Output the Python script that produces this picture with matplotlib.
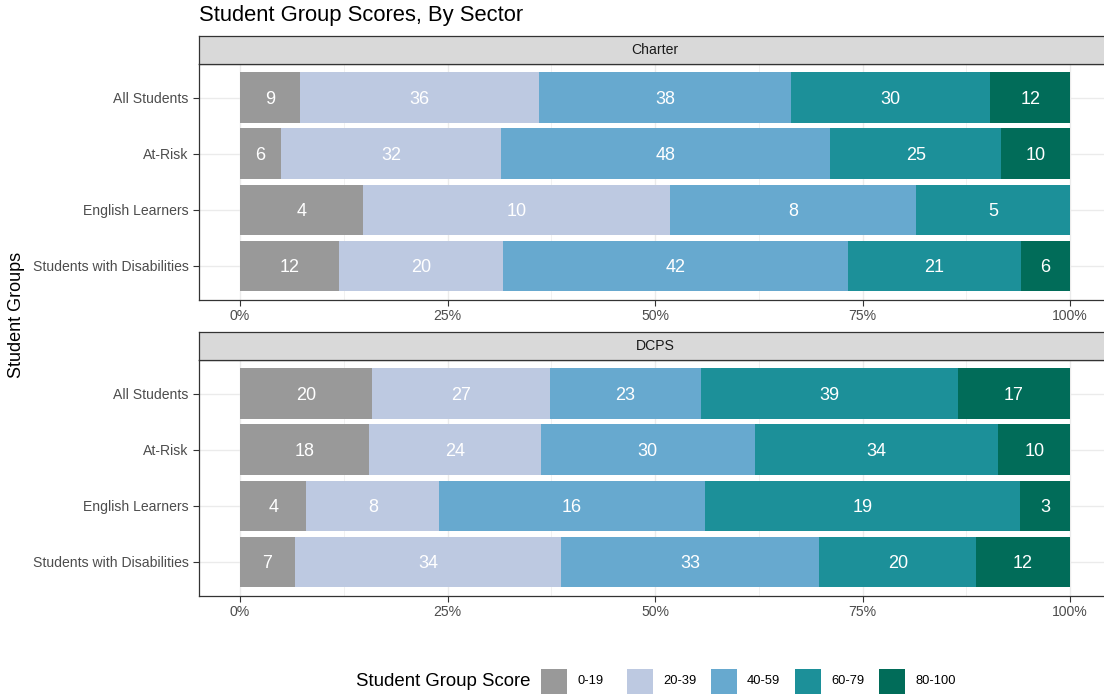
import matplotlib

matplotlib.use("Agg")
import matplotlib.pyplot as plt
from matplotlib.patches import Rectangle
import numpy as np

plt.rcParams["font.family"] = ["Liberation Sans", "DejaVu Sans"]

groups = ["All Students", "At-Risk", "English Learners", "Students with Disabilities"]
score_bands = ["0-19", "20-39", "40-59", "60-79", "80-100"]
band_colors = ["#999999", "#bdc9e1", "#67a9cf", "#1c9099", "#016c59"]
sectors = ["Charter", "DCPS"]

# counts per group, columns follow score_bands
charter_counts = [
    [9, 36, 38, 30, 12],
    [6, 32, 48, 25, 10],
    [4, 10, 8, 5, 0],
    [12, 20, 42, 21, 6],
]
dcps_counts = [
    [20, 27, 23, 39, 17],
    [18, 24, 30, 34, 10],
    [4, 8, 16, 19, 3],
    [7, 34, 33, 20, 12],
]
x_ticks = [0, 0.25, 0.5, 0.75, 1.0]
x_tick_labels = ["0%", "25%", "50%", "75%", "100%"]

W, H = 1104, 698
fig = plt.figure(figsize=(W / 100, H / 100), dpi=100)


def fig_box(x0, y0, x1, y1):
    # pixel box (top-left origin) -> figure fraction rect
    return [x0 / W, 1 - y1 / H, (x1 - x0) / W, (y1 - y0) / H]


def draw_panel(counts, sector, top):
    strip_top, panel_top, panel_bottom = top, top + 28, top + 263.5
    left, right = 198.5, 1111.5

    ax = fig.add_axes(fig_box(left, panel_top, right, panel_bottom))
    data = np.array(counts, dtype=float)
    shares = data / data.sum(axis=1, keepdims=True)
    starts = np.cumsum(shares, axis=1) - shares
    ypos = np.arange(len(groups))

    for j, band in enumerate(score_bands):
        ax.barh(ypos, shares[:, j], left=starts[:, j], height=0.9,
                color=band_colors[j], edgecolor="none", zorder=2)
        for i in range(len(groups)):
            if data[i, j] > 0:
                ax.text(starts[i, j] + shares[i, j] / 2, ypos[i], f"{int(data[i, j])}",
                        ha="center", va="center_baseline", color="white", fontsize=13, zorder=3)

    ax.set_xlim(-0.05, 1.05)
    ax.set_ylim(len(groups) - 0.4, -0.6)
    ax.set_xticks(x_ticks)
    ax.set_xticklabels(x_tick_labels)
    ax.set_xticks([0.125, 0.375, 0.625, 0.875], minor=True)
    ax.set_yticks(ypos)
    ax.set_yticklabels(groups)
    ax.tick_params(axis="both", which="major", labelsize=10.1, labelcolor="#4d4d4d",
                   color="#333333", length=4, width=0.8, pad=3)
    ax.tick_params(axis="x", which="minor", length=0)
    ax.grid(True, which="major", color="#ebebeb", linewidth=1.0, zorder=0)
    ax.grid(True, which="minor", axis="x", color="#ebebeb", linewidth=0.5, zorder=0)
    ax.set_axisbelow(True)
    for sp in ax.spines.values():
        sp.set_color("#333333")
        sp.set_linewidth(0.9)

    sax = fig.add_axes(fig_box(left, strip_top, right, panel_top))
    sax.set_facecolor("#d9d9d9")
    sax.set_xticks([])
    sax.set_yticks([])
    for sp in sax.spines.values():
        sp.set_color("#333333")
        sp.set_linewidth(0.9)
    fig.text((left + right) / 2 / W, 1 - (strip_top + 14) / H, sector,
             ha="center", va="center", fontsize=10.1, color="#1a1a1a")
    return ax


draw_panel(charter_counts, sectors[0], 36)
draw_panel(dcps_counts, sectors[1], 332)

fig.text(199 / W, 1 - 15 / H, "Student Group Scores, By Sector",
         ha="left", va="center", fontsize=15.8, color="black")
fig.text(17 / W, 1 - 315 / H, "Student Groups", rotation=90,
         ha="center", va="center", fontsize=13, color="black")

# legend along the bottom
leg_y = 681
fig.text(356 / W, 1 - leg_y / H, "Student Group Score", ha="left", va="center",
         fontsize=13.4, color="black")
key_x = [541, 627, 711, 795, 879]
for kx, band, col in zip(key_x, score_bands, band_colors):
    fig.add_artist(Rectangle((kx / W, 1 - (leg_y + 12.5) / H), 26 / W, 25 / H,
                             transform=fig.transFigure, facecolor=col, edgecolor="none"))
    fig.text((kx + 36) / W, 1 - leg_y / H, band, ha="left", va="center",
             fontsize=9.3, color="black")

fig.savefig("out.png", dpi=100)
